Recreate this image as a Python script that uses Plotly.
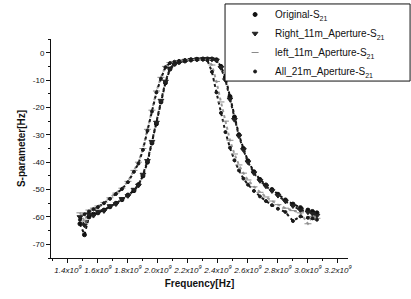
import plotly.graph_objects as go

# Frequency sample points (GHz, shown as x10^9 Hz)
freq = [1.48, 1.51, 1.54, 1.57, 1.60, 1.64, 1.68, 1.72, 1.76, 1.80,
        1.84, 1.87, 1.90, 1.93, 1.96, 1.99, 2.02, 2.05, 2.08, 2.11,
        2.14, 2.18, 2.22, 2.26, 2.30, 2.33, 2.36, 2.39, 2.42, 2.45,
        2.48, 2.51, 2.54, 2.57, 2.60, 2.64, 2.68, 2.72, 2.76, 2.80,
        2.85, 2.90, 2.95, 3.00, 3.03, 3.06]

original = [-62.5, -66.5, -60.0, -59.0, -58.5, -57.5, -56.3, -55.0, -53.7, -52.0,
            -50.4, -48.2, -45.0, -40.0, -33.0, -26.0, -18.0, -11.0, -6.0, -4.2,
            -3.5, -3.0, -2.6, -2.4, -2.3, -2.3, -2.3, -2.6, -5.0, -9.0,
            -16.0, -23.5, -30.0, -35.0, -39.5, -43.5, -46.3, -48.3, -50.0, -51.7,
            -53.8, -55.3, -56.6, -57.5, -58.0, -58.5]

right_11m = [-60.0, -63.0, -59.0, -59.5, -58.0, -57.8, -56.0, -55.3, -53.4, -52.3,
             -50.0, -48.5, -44.5, -39.5, -32.5, -25.5, -17.5, -10.5, -5.8, -4.0,
             -3.4, -2.9, -2.6, -2.4, -2.3, -2.3, -2.4, -2.8, -5.5, -10.0,
             -17.0, -24.5, -30.5, -35.5, -40.0, -44.0, -46.8, -48.8, -50.5, -52.2,
             -54.3, -56.0, -57.5, -58.3, -58.8, -59.5]

left_11m = [-58.5, -61.5, -57.5, -56.8, -56.0, -54.7, -53.0, -51.3, -49.5, -47.0,
            -43.0, -40.0, -35.0, -28.0, -21.0, -14.0, -9.0, -5.0, -3.6, -3.2,
            -3.0, -2.7, -2.5, -2.4, -2.4, -2.5, -4.5, -10.5, -18.0, -25.0,
            -32.0, -37.0, -41.0, -44.0, -46.5, -49.0, -51.0, -52.7, -54.2, -55.5,
            -56.8, -57.7, -58.5, -62.5, -59.8, -60.5]

all_21m = [-61.0, -59.0, -58.0, -57.2, -56.4, -55.0, -53.4, -51.6, -49.8, -47.3,
           -43.5, -40.5, -35.5, -28.5, -21.5, -14.5, -9.5, -5.3, -3.8, -3.3,
           -3.0, -2.7, -2.5, -2.3, -2.3, -2.8, -7.0, -14.5, -22.0, -29.0,
           -34.7, -39.3, -43.0, -46.0, -48.2, -50.5, -52.5, -54.2, -55.7, -57.0,
           -58.2, -61.5, -59.8, -60.3, -60.5, -61.0]

series_names = ["Original-S<sub>21</sub>", "Right_11m_Aperture-S<sub>21</sub>",
                "left_11m_Aperture-S<sub>21</sub>", "All_21m_Aperture-S<sub>21</sub>"]

x_ticks = [1.4, 1.6, 1.8, 2.0, 2.2, 2.4, 2.6, 2.8, 3.0, 3.2]
x_tick_labels = ["1.4x10<sup>9</sup>", "1.6x10<sup>9</sup>", "1.8x10<sup>9</sup>",
                 "2.0x10<sup>9</sup>", "2.2x10<sup>9</sup>", "2.4x10<sup>9</sup>",
                 "2.6x10<sup>9</sup>", "2.8x10<sup>9</sup>", "3.0x10<sup>9</sup>",
                 "3.2x10<sup>9</sup>"]
y_ticks = [0, -10, -20, -30, -40, -50, -60, -70]
y_tick_labels = ["0", "-10", "-20", "-30", "-40", "-50", "-60", "-70"]

styles = [
    dict(color="#111111", symbol="circle", size=4, line_color="#111111"),
    dict(color="#222222", symbol="triangle-down", size=5, line_color="#222222"),
    dict(color="#9a9a9a", symbol="line-ew", size=5, line_color="#8a8a8a"),
    dict(color="#1a1a1a", symbol="circle", size=3, line_color="#1a1a1a"),
]
data = [original, right_11m, left_11m, all_21m]

fig = go.Figure()
# dotted chains along each series
for vals, st in zip(data, styles):
    fig.add_trace(go.Scatter(x=freq, y=vals, mode="lines", showlegend=False,
                             hoverinfo="skip",
                             line=dict(color=st["color"], width=2, dash="dot")))
# sample markers (legend entries)
for name, vals, st in zip(series_names, data, styles):
    fig.add_trace(go.Scatter(x=freq, y=vals, mode="markers", name=name,
                             marker=dict(color=st["color"], symbol=st["symbol"],
                                         size=st["size"],
                                         line=dict(color=st["line_color"], width=1))))

fig.update_layout(
    width=411, height=299,
    margin=dict(l=51, r=63, t=39, b=41, autoexpand=False),
    paper_bgcolor="white", plot_bgcolor="white",
    font=dict(family="Liberation Sans, Arial, sans-serif", color="#111111"),
    showlegend=True, hovermode=False,
    legend=dict(xref="container", yref="container", x=0.572, y=1.0,
                xanchor="left", yanchor="top",
                bgcolor="rgba(0,0,0,0)", borderwidth=0,
                font=dict(size=10, color="#111111"),
                itemwidth=30, tracegroupgap=0),
    shapes=[dict(type="rect", xref="paper", yref="paper",
                 x0=0.586, x1=1.209, y0=0.808, y1=1.16,
                 line=dict(color="#111111", width=1), fillcolor="white",
                 layer="above")],
)

fig.update_xaxes(
    range=[1.287, 3.267], showgrid=False, zeroline=False, automargin=False,
    showline=True, linecolor="#111111", linewidth=1, mirror=False,
    ticks="outside", ticklen=4, tickwidth=1, tickcolor="#111111",
    tickmode="array", tickvals=x_ticks, ticktext=x_tick_labels, tickangle=0,
    tickfont=dict(size=8, style="italic"),
    minor=dict(tickmode="linear", tick0=1.3, dtick=0.1, ticks="outside",
               ticklen=2, tickcolor="#111111"),
    title=dict(text="<b>Frequency[Hz]</b>", font=dict(size=10), standoff=6),
)
fig.update_yaxes(
    range=[-75, 5], showgrid=False, zeroline=False, automargin=False,
    showline=True, linecolor="#111111", linewidth=1, mirror=False,
    ticks="outside", ticklen=4, tickwidth=1, tickcolor="#111111",
    tickmode="array", tickvals=y_ticks, ticktext=y_tick_labels,
    tickfont=dict(size=8),
    minor=dict(tickmode="linear", tick0=0, dtick=5, ticks="outside",
               ticklen=2, tickcolor="#111111"),
    title=dict(text="<b>S-parameter[Hz]</b>", font=dict(size=10), standoff=5),
)

fig.write_html("out.html", config={"displayModeBar": False},
               post_script="document.body.style.margin='0px';")
